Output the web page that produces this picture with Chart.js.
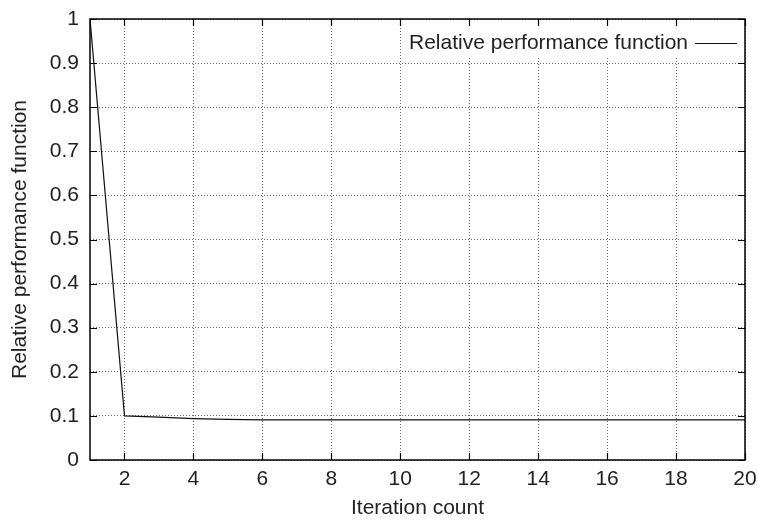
<!DOCTYPE html>
<html>
<head>
<meta charset="utf-8">
<script src="https://cdn.jsdelivr.net/npm/chart.js@4/dist/chart.umd.min.js"></script>
<style>
  html, body { margin: 0; padding: 0; background: #fff; }
  #wrap { width: 758px; height: 521px; }
</style>
</head>
<body>
<div id="wrap"><canvas id="c" width="758" height="521"></canvas></div>
<script>
// Iteration number and the relative performance function value at each iteration
const iterations = [1, 2, 3, 4, 5, 6, 7, 8, 9, 10, 11, 12, 13, 14, 15, 16, 17, 18, 19, 20];
const performance = [1.0, 0.100, 0.097, 0.094, 0.092, 0.091, 0.091, 0.091, 0.091, 0.091,
                     0.091, 0.091, 0.091, 0.091, 0.091, 0.091, 0.091, 0.091, 0.091, 0.091];
const xTickValues = [2, 4, 6, 8, 10, 12, 14, 16, 18, 20];
const yTickValues = [0, 0.1, 0.2, 0.3, 0.4, 0.5, 0.6, 0.7, 0.8, 0.9, 1];
const seriesLabel = 'Relative performance function';
const xTitle = 'Iteration count';
const yTitle = 'Relative performance function';

const FONT = '"Liberation Sans", Arial, Helvetica, sans-serif';
const FSIZE = 21;

// Inward tick marks on all four sides plus the frame, and a key in the upper right
const framePlugin = {
  id: 'frame',
  afterDatasetsDraw(chart) {
    const { ctx, chartArea: a, scales: { x, y } } = chart;
    const len = 7;
    ctx.save();
    ctx.strokeStyle = '#000';
    ctx.lineWidth = 1.2;
    ctx.beginPath();
    xTickValues.forEach(v => {
      const px = Math.round(x.getPixelForValue(v)) + 0.5;
      ctx.moveTo(px, a.bottom); ctx.lineTo(px, a.bottom - len);
      ctx.moveTo(px, a.top); ctx.lineTo(px, a.top + len);
    });
    yTickValues.forEach(v => {
      const py = Math.round(y.getPixelForValue(v)) + 0.5;
      ctx.moveTo(a.left, py); ctx.lineTo(a.left + len, py);
      ctx.moveTo(a.right, py); ctx.lineTo(a.right - len, py);
    });
    ctx.stroke();
    ctx.lineWidth = 1.5;
    ctx.strokeRect(a.left, a.top, a.right - a.left, a.bottom - a.top);

    // key
    const ds = chart.data.datasets[0];
    ctx.font = FSIZE + 'px ' + FONT;
    const tw = ctx.measureText(ds.label).width;
    const lineEnd = a.right - 8;
    const lineStart = lineEnd - 42;
    const textRight = lineStart - 7;
    const cy = a.top + 24;
    ctx.fillStyle = '#fff';
    ctx.fillRect(textRight - tw - 4, cy - 15, lineEnd - textRight + tw + 8, 30);
    ctx.fillStyle = '#222';
    ctx.textAlign = 'right';
    ctx.textBaseline = 'middle';
    ctx.fillText(ds.label, textRight, cy);
    ctx.strokeStyle = ds.borderColor;
    ctx.lineWidth = ds.borderWidth;
    ctx.beginPath();
    ctx.moveTo(lineStart, cy + 0.5);
    ctx.lineTo(lineEnd, cy + 0.5);
    ctx.stroke();
    ctx.restore();
  }
};

new Chart(document.getElementById('c'), {
  type: 'line',
  data: {
    datasets: [{
      label: seriesLabel,
      data: iterations.map((it, i) => ({ x: it, y: performance[i] })),
      borderColor: '#111',
      borderWidth: 1.2,
      pointRadius: 0,
      tension: 0,
      fill: false
    }]
  },
  options: {
    responsive: false,
    animation: false,
    layout: { padding: { left: 0, right: 13, top: 19, bottom: 0 } },
    plugins: { legend: { display: false }, tooltip: { enabled: false } },
    scales: {
      x: {
        type: 'linear',
        min: 1, max: 20,
        afterBuildTicks: s => { s.ticks = xTickValues.map(v => ({ value: v })); },
        afterFit: s => { s.height = 61; s.paddingLeft = 0; s.paddingRight = 0; },
        border: { display: false, dash: [1, 2] },
        grid: { color: '#666', lineWidth: 1, drawTicks: false },
        ticks: { padding: 7, color: '#222', font: { family: FONT, size: FSIZE }, maxRotation: 0 },
        title: { display: true, text: xTitle, color: '#222', font: { family: FONT, size: FSIZE }, padding: { top: 2, bottom: 0 } }
      },
      y: {
        min: 0, max: 1,
        afterBuildTicks: s => { s.ticks = yTickValues.map(v => ({ value: v })); },
        afterFit: s => { s.width = 90; s.paddingTop = 0; s.paddingBottom = 0; },
        border: { display: false, dash: [1, 2] },
        grid: { color: '#666', lineWidth: 1, drawTicks: false },
        ticks: { padding: 11, color: '#222', font: { family: FONT, size: FSIZE }, callback: v => String(v) },
        title: { display: true, text: yTitle, color: '#222', font: { family: FONT, size: FSIZE }, padding: { top: 8, bottom: 2 } }
      }
    }
  },
  plugins: [framePlugin]
});
</script>
</body>
</html>
